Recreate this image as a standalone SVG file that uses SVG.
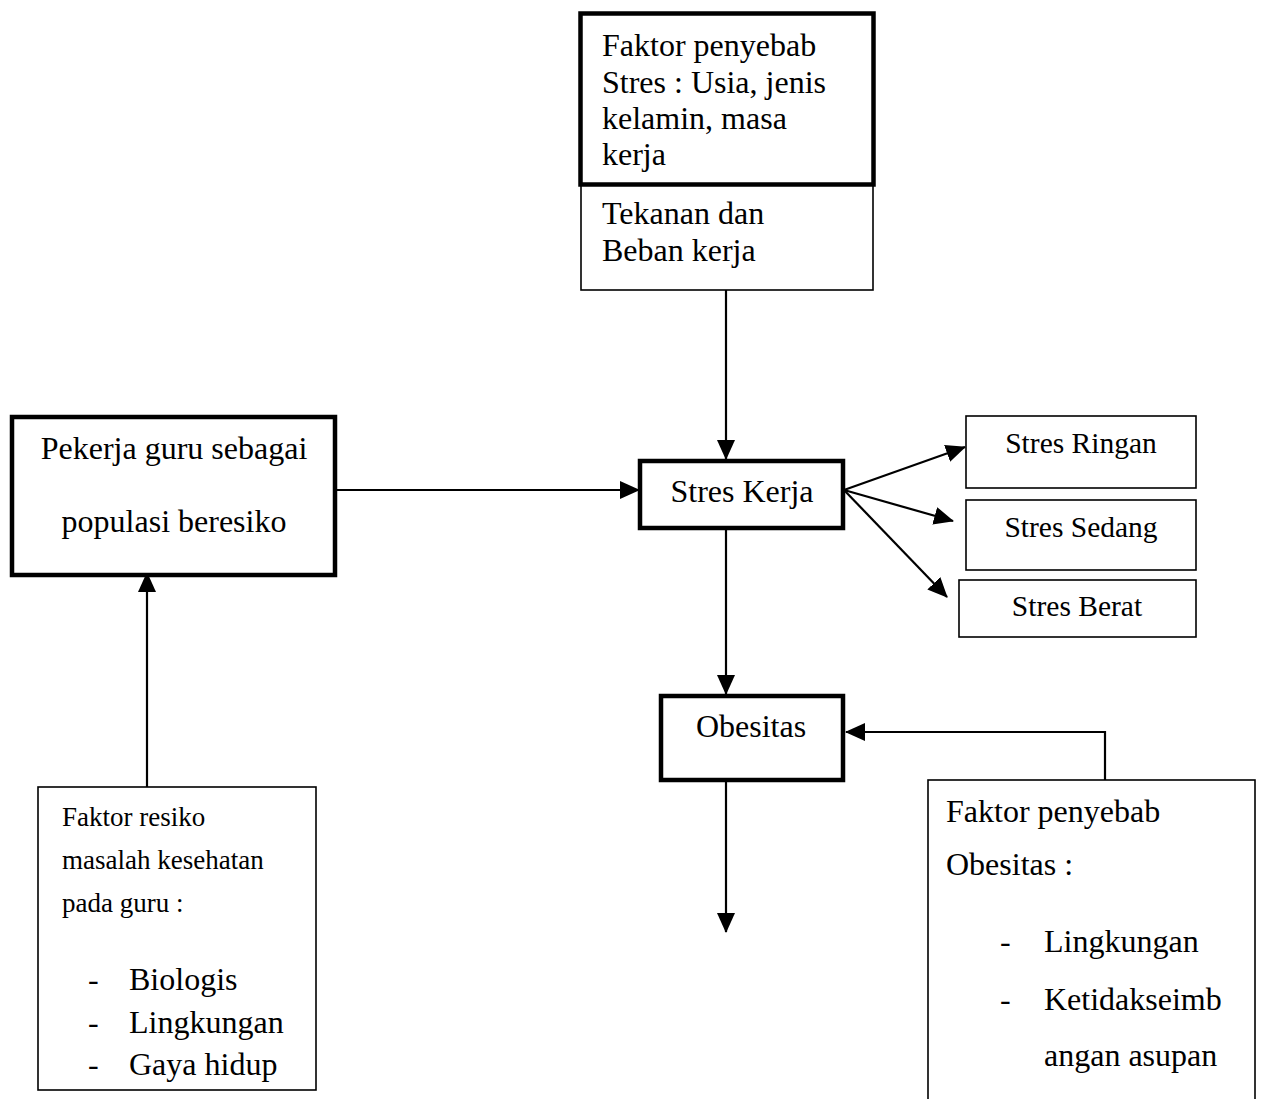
<svg xmlns="http://www.w3.org/2000/svg" width="1264" height="1099" viewBox="0 0 1264 1099">
<style>
text{font-family:"Liberation Serif","Times New Roman",serif;font-size:32px;fill:#000}
.sm{font-size:29.5px}
.hd{font-size:27px}
.c{text-anchor:middle}
.thick{fill:#fff;stroke:#000;stroke-width:4.5}
.thin{fill:#fff;stroke:#000;stroke-width:1.6}
.ln{fill:none;stroke:#000;stroke-width:2.2}
</style>
<defs>
<marker id="ah" markerUnits="userSpaceOnUse" markerWidth="20" markerHeight="18" viewBox="0 0 20 18" refX="19" refY="9" orient="auto">
<path d="M0,0 L20,9 L0,18 Z" fill="#000"/>
</marker>
</defs>
<g id="connectors">
<line class="ln" x1="726" y1="290" x2="726" y2="459" marker-end="url(#ah)"/>
<line class="ln" x1="336" y1="490" x2="639" y2="490" marker-end="url(#ah)"/>
<line class="ln" x1="844" y1="490" x2="965" y2="447" marker-end="url(#ah)"/>
<line class="ln" x1="844" y1="490" x2="953" y2="521" marker-end="url(#ah)"/>
<line class="ln" x1="844" y1="490" x2="947" y2="597" marker-end="url(#ah)"/>
<line class="ln" x1="726" y1="529" x2="726" y2="694" marker-end="url(#ah)"/>
<line class="ln" x1="726" y1="781" x2="726" y2="932" marker-end="url(#ah)"/>
<polyline class="ln" points="1105,780 1105,732 846,732" marker-end="url(#ah)"/>
<line class="ln" x1="147" y1="787" x2="147" y2="573" marker-end="url(#ah)"/>
</g>
<g id="tekanan">
<rect class="thin" x="581" y="185" width="292" height="105"/>
<text x="602" y="224">Tekanan dan</text>
<text x="602" y="261">Beban kerja</text>
</g>
<g id="faktor-stres">
<rect class="thick" x="580.5" y="13.5" width="293" height="171"/>
<text x="602" y="56">Faktor penyebab</text>
<text x="602" y="93">Stres : Usia, jenis</text>
<text x="602" y="129">kelamin, masa</text>
<text x="602" y="165">kerja</text>
</g>
<g id="pekerja">
<rect class="thick" x="12" y="417" width="323" height="158"/>
<text class="c" x="174" y="459">Pekerja guru sebagai</text>
<text class="c" x="174" y="532">populasi beresiko</text>
</g>
<g id="stres-kerja">
<rect class="thick" x="640" y="461" width="203" height="67"/>
<text class="c" x="742" y="502">Stres Kerja</text>
</g>
<g id="stres-ringan">
<rect class="thin" x="966" y="416" width="230" height="72"/>
<text class="c sm" x="1081" y="453">Stres Ringan</text>
</g>
<g id="stres-sedang">
<rect class="thin" x="966" y="500" width="230" height="70"/>
<text class="c sm" x="1081" y="537">Stres Sedang</text>
</g>
<g id="stres-berat">
<rect class="thin" x="959" y="580" width="237" height="57"/>
<text class="c sm" x="1077" y="616">Stres Berat</text>
</g>
<g id="obesitas">
<rect class="thick" x="661" y="696" width="182" height="84"/>
<text class="c" x="751" y="737">Obesitas</text>
</g>
<g id="faktor-resiko">
<rect class="thin" x="38" y="787" width="278" height="303"/>
<text class="hd" x="62" y="826">Faktor resiko</text>
<text class="hd" x="62" y="869">masalah kesehatan</text>
<text class="hd" x="62" y="912">pada guru :</text>
<text x="88" y="990">-</text>
<text x="129" y="990">Biologis</text>
<text x="88" y="1033">-</text>
<text x="129" y="1033">Lingkungan</text>
<text x="88" y="1075">-</text>
<text x="129" y="1075">Gaya hidup</text>
</g>
<g id="faktor-obesitas">
<rect class="thin" x="928" y="780" width="327" height="330"/>
<text x="946" y="822">Faktor penyebab</text>
<text x="946" y="875">Obesitas :</text>
<text x="1000" y="952">-</text>
<text x="1044" y="952">Lingkungan</text>
<text x="1000" y="1010">-</text>
<text x="1044" y="1010">Ketidakseimb</text>
<text x="1044" y="1066">angan asupan</text>
</g>
</svg>
